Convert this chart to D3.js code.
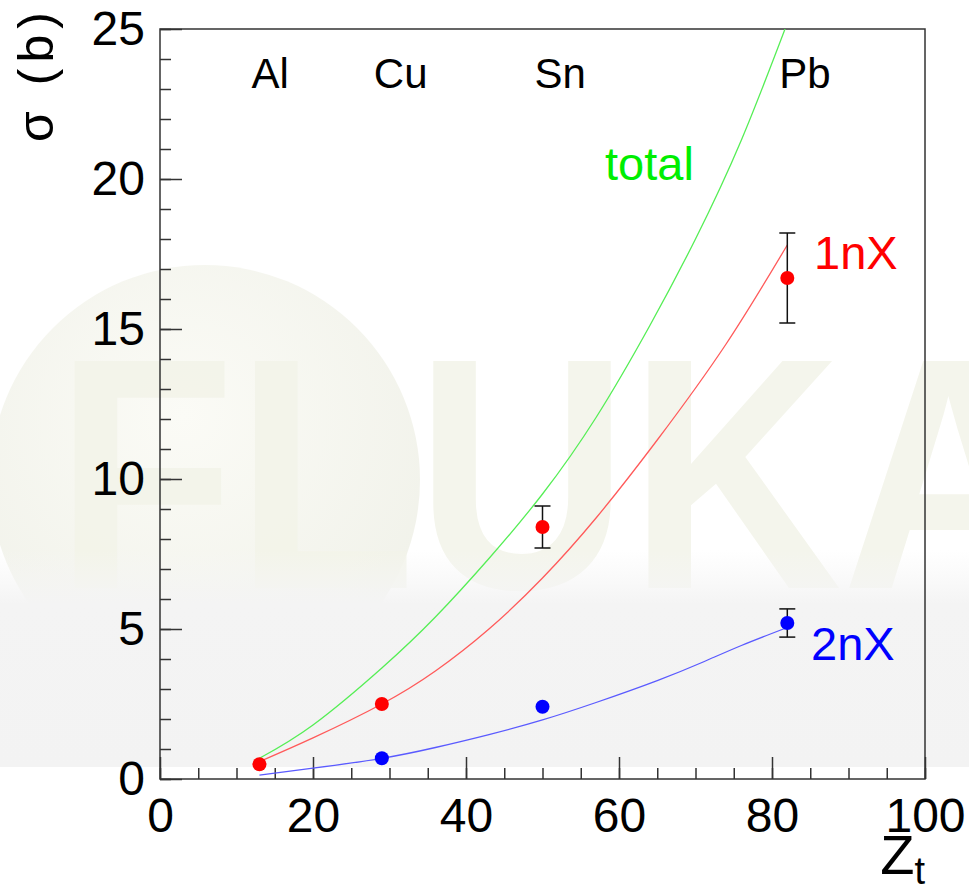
<!DOCTYPE html>
<html>
<head>
<meta charset="utf-8">
<script src="https://cdn.jsdelivr.net/npm/d3@7"></script>
<style>
  html, body { margin: 0; padding: 0; background: #ffffff; }
  svg { display: block; }
  text { font-family: "Liberation Sans", Arial, Helvetica, sans-serif; }
</style>
</head>
<body>
<svg id="chart" width="969" height="893"></svg>
<script>
// ---------------- data ----------------
const elements = ["Al", "Cu", "Sn", "Pb"];
const elementZ = [13, 29, 50, 82];

// measured points: 1nX (red) and 2nX (blue)
const oneNX_Z   = [13, 29, 50, 82];
const oneNX_val = [0.49, 2.5, 8.4, 16.7];
const oneNX_err = [0, 0, 0.7, 1.5];

const twoNX_Z   = [29, 50, 82];
const twoNX_val = [0.69, 2.41, 5.2];
const twoNX_err = [0, 0, 0.47];

// calculated curves
const totalCurveZ   = [13, 20, 29, 36, 43, 50, 57, 64, 70, 76, 82];
const totalCurveVal = [0.69, 1.8, 3.7, 5.4, 7.35, 9.5, 12.05, 15.1, 18.0, 21.3, 25.2];

const oneNXCurveZ   = [13, 20, 29, 36, 43, 50, 57, 65, 74, 82];
const oneNXCurveVal = [0.58, 1.37, 2.5, 3.6, 5.0, 6.7, 8.7, 11.3, 14.5, 17.8];

const twoNXCurveZ   = [13, 20, 29, 36, 43, 50, 57, 65, 71, 76, 82];
const twoNXCurveVal = [0.13, 0.36, 0.69, 1.05, 1.48, 1.97, 2.55, 3.28, 3.9, 4.45, 5.05];

const xMajorTicks = [0, 20, 40, 60, 80, 100];
const yMajorTicks = [0, 5, 10, 15, 20, 25];

// ---------------- layout ----------------
const svg = d3.select("#chart");
const L = 160, R = 925, T = 29, B = 779;
const x = d3.scaleLinear().domain([0, 100]).range([L, R]);
const y = d3.scaleLinear().domain([0, 25]).range([B, T]);

// ---------------- watermark background ----------------
const defs = svg.append("defs");
const sph = defs.append("radialGradient").attr("id", "sph").attr("cx", "45%").attr("cy", "35%").attr("r", "65%");
sph.append("stop").attr("offset", "0%").attr("stop-color", "#fbfbf6");
sph.append("stop").attr("offset", "100%").attr("stop-color", "#f1f2ea");
const band = defs.append("linearGradient").attr("id", "band").attr("x1", 0).attr("y1", 0).attr("x2", 0).attr("y2", 1);
band.append("stop").attr("offset", "0%").attr("stop-color", "#f6f6f6").attr("stop-opacity", 0);
band.append("stop").attr("offset", "25%").attr("stop-color", "#f4f4f4").attr("stop-opacity", 1);
band.append("stop").attr("offset", "100%").attr("stop-color", "#f3f3f3").attr("stop-opacity", 1);
defs.append("clipPath").attr("id", "plotclip").append("rect")
  .attr("x", L).attr("y", T).attr("width", R - L).attr("height", B - T);

const wm = svg.append("g").attr("class", "watermark");
wm.append("circle").attr("cx", 205).attr("cy", 480).attr("r", 215).attr("fill", "url(#sph)");
wm.append("text")
  .attr("x", 55).attr("y", 588)
  .attr("textLength", 1000).attr("lengthAdjust", "spacingAndGlyphs")
  .attr("font-size", 330).attr("font-weight", "bold")
  .attr("fill", "#f3f4e9").attr("opacity", 0.85)
  .text("FLUKA");
wm.append("rect").attr("x", 0).attr("y", 550).attr("width", 969).attr("height", 217).attr("fill", "url(#band)");

// ---------------- axes ----------------
const fontTick = 48;
const yMajor = d3.axisLeft(y).tickValues(yMajorTicks).tickSize(-22).tickPadding(15).tickFormat(d3.format("d"));
const yMinor = d3.axisLeft(y).tickValues(d3.range(0, 26, 1)).tickSize(-11).tickFormat("");
const xMajor = d3.axisBottom(x).tickValues(xMajorTicks).tickSize(-22).tickPadding(19).tickFormat(d3.format("d"));
const xMinor = d3.axisBottom(x).tickValues(d3.range(0, 101, 5)).tickSize(-11).tickFormat("");

function styleAxis(g) {
  g.select(".domain").remove();
  g.selectAll(".tick line").attr("stroke", "#333").attr("stroke-width", 1.5);
  g.selectAll(".tick text").attr("fill", "#000").attr("font-size", fontTick)
    .attr("font-family", "'Liberation Sans', Arial, sans-serif");
}
svg.append("g").attr("transform", `translate(${L},0)`).call(yMinor).call(styleAxis);
svg.append("g").attr("transform", `translate(${L},0)`).call(yMajor).call(styleAxis);
svg.append("g").attr("transform", `translate(0,${B})`).call(xMinor).call(styleAxis);
svg.append("g").attr("transform", `translate(0,${B})`).call(xMajor).call(styleAxis);

// frame
svg.append("rect").attr("x", L).attr("y", T).attr("width", R - L).attr("height", B - T)
  .attr("fill", "none").attr("stroke", "#333").attr("stroke-width", 1.5);

// axis titles
svg.append("text")
  .attr("transform", `translate(53,142) rotate(-90)`)
  .attr("text-anchor", "start").attr("font-size", 50).attr("letter-spacing", 6).attr("fill", "#000")
  .text("σ (b)");
const zt = svg.append("text").attr("x", R).attr("y", 874).attr("text-anchor", "end").attr("fill", "#000");
zt.append("tspan").attr("font-size", 56).text("Z");
zt.append("tspan").attr("font-size", 38).attr("dy", 10).text("t");

// ---------------- curves ----------------
const line = d3.line().x(d => x(d[0])).y(d => y(d[1])).curve(d3.curveNatural);
const curves = svg.append("g").attr("clip-path", "url(#plotclip)");
curves.append("path").datum(d3.zip(totalCurveZ, totalCurveVal))
  .attr("d", line).attr("fill", "none").attr("stroke", "#55ee55").attr("stroke-width", 1.3);
curves.append("path").datum(d3.zip(oneNXCurveZ, oneNXCurveVal))
  .attr("d", line).attr("fill", "none").attr("stroke", "#ff5a5a").attr("stroke-width", 1.3);
curves.append("path").datum(d3.zip(twoNXCurveZ, twoNXCurveVal))
  .attr("d", line).attr("fill", "none").attr("stroke", "#5a5aff").attr("stroke-width", 1.3);

// ---------------- points with error bars ----------------
function drawPoints(Zs, vals, errs, color) {
  const g = svg.append("g");
  const data = Zs.map((z, i) => ({ z, v: vals[i], e: errs[i] }));
  const eb = g.selectAll("g.eb").data(data.filter(d => d.e > 0)).join("g").attr("class", "eb")
    .attr("stroke", "#111").attr("stroke-width", 1.5);
  eb.append("line").attr("x1", d => x(d.z)).attr("x2", d => x(d.z))
    .attr("y1", d => y(d.v + d.e)).attr("y2", d => y(d.v - d.e));
  eb.append("line").attr("x1", d => x(d.z) - 8).attr("x2", d => x(d.z) + 8)
    .attr("y1", d => y(d.v + d.e)).attr("y2", d => y(d.v + d.e));
  eb.append("line").attr("x1", d => x(d.z) - 8).attr("x2", d => x(d.z) + 8)
    .attr("y1", d => y(d.v - d.e)).attr("y2", d => y(d.v - d.e));
  g.selectAll("circle").data(data).join("circle")
    .attr("cx", d => x(d.z)).attr("cy", d => y(d.v)).attr("r", 7).attr("fill", color);
}
drawPoints(oneNX_Z, oneNX_val, oneNX_err, "#ff0000");
drawPoints(twoNX_Z, twoNX_val, twoNX_err, "#0000ff");

// ---------------- labels ----------------
svg.append("g").selectAll("text").data(elements).join("text")
  .attr("x", (d, i) => x(elementZ[i]) - 8).attr("y", 88)
  .attr("font-size", 42).attr("fill", "#000")
  .text(d => d);

svg.append("text").attr("x", 605).attr("y", 180).attr("font-size", 47).attr("fill", "#00ee00").text("total");
svg.append("text").attr("x", 814).attr("y", 269).attr("font-size", 47).attr("fill", "#ff0000").text("1nX");
svg.append("text").attr("x", 811).attr("y", 660).attr("font-size", 47).attr("fill", "#0000ff").text("2nX");
</script>
</body>
</html>
